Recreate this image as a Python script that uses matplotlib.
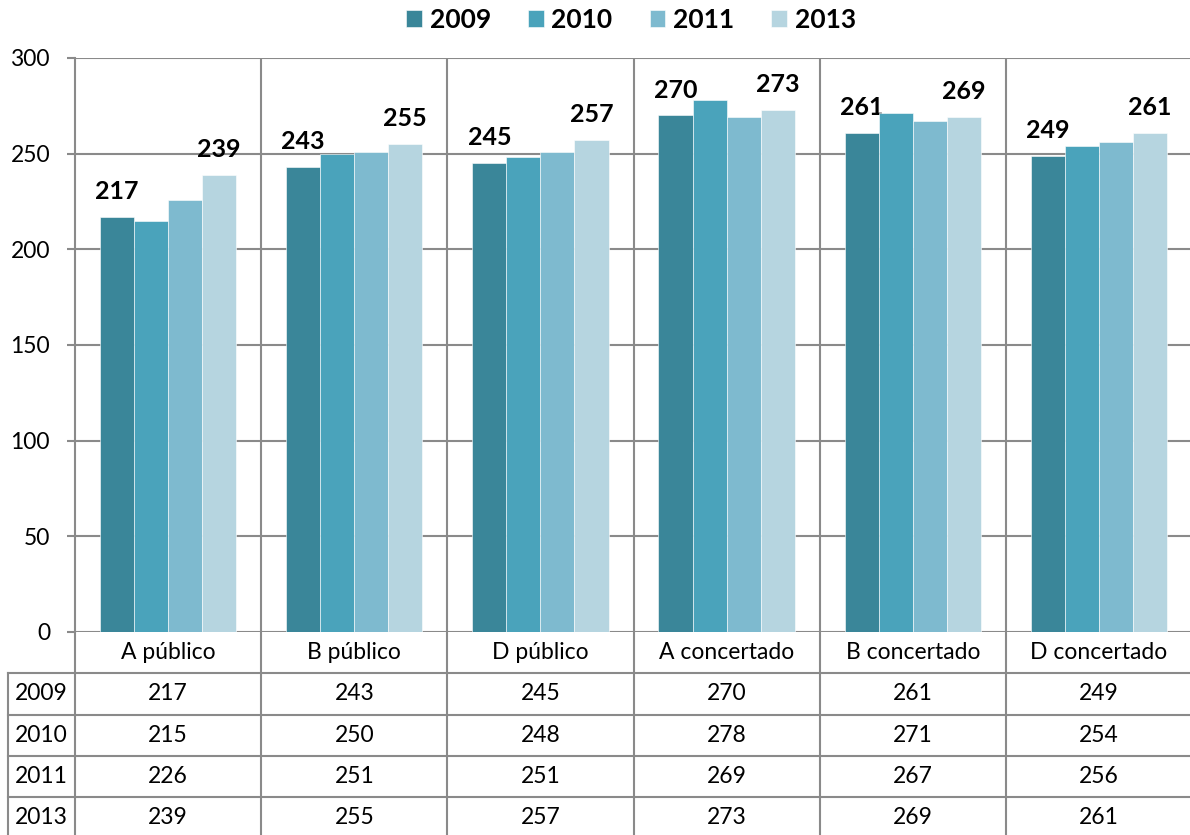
from matplotlib import pyplot as plt

categories = ["A público", "B público", "D público", "A concertado", "B concertado", "D concertado"]
years = ["2009", "2010", "2011", "2013"]
v2009 = [217, 243, 245, 270, 261, 249]
v2010 = [215, 250, 248, 278, 271, 254]
v2011 = [226, 251, 251, 269, 267, 256]
v2013 = [239, 255, 257, 273, 269, 261]
series = [v2009, v2010, v2011, v2013]
labelled = ["2009", "2013"]  # only these series carry labels above bars

colors = ["#3A8699", "#4AA3BB", "#7EBACF", "#B6D5E0"]
grid_col = "#8A8A8A"
fs = 16.5

plt.rcParams['font.family'] = ['Lato', 'DejaVu Sans']

W, H = 1190, 835
fig = plt.figure(figsize=(W / 100, H / 100), dpi=100)


def px_axes(x0, y0, x1, y1):
    # axes from pixel box (top-left origin)
    return fig.add_axes((x0 / W, 1 - y1 / H, (x1 - x0) / W, (y1 - y0) / H))


# main bar area
ax = px_axes(75, 58, 1192, 632)
ax.set_xlim(-0.5, len(categories) - 0.5)
ax.set_ylim(0, 300)

bw = 0.183
xs = list(range(len(categories)))
bars = []
for j, (yr, vals) in enumerate(zip(years, series)):
    pos = [x + (j - 1.5) * bw for x in xs]
    b = ax.bar(pos, vals, width=bw, color=colors[j], edgecolor="white", linewidth=0.4, label=yr, zorder=3)
    bars.append(b)
    if yr in labelled:
        for p, v in zip(pos, vals):
            ax.annotate(str(v), (p, v), xytext=(0, 10), textcoords="offset points",
                        ha="center", va="bottom", fontsize=18, fontweight="bold")

ax.set_yticks(range(0, 301, 50))
ax.grid(axis="y", color=grid_col, linewidth=1.5, zorder=0)
ax.set_axisbelow(True)
ax.vlines([x + 0.5 for x in xs[:-1]], 0, 300, color=grid_col, linewidth=1.5, zorder=1)
for s in ["top", "right", "bottom"]:
    ax.spines[s].set_visible(False)
ax.spines["left"].set_color(grid_col)
ax.spines["left"].set_linewidth(1.5)
ax.set_xticks([])
ax.tick_params(axis="y", length=6, width=1.5, color=grid_col, labelsize=fs, pad=12)

# data table under the chart
row_h = 41.3
left_w = 67 / (1117 / len(categories))
tab = px_axes(8, 632, 1192, 835)
x_left = -0.5 - left_w
tab.set_xlim(x_left, len(categories) - 0.5)
tab.set_ylim(203 / row_h, 0)
tab.axis("off")

n_rows = len(years) + 1
for i in range(len(categories)):
    tab.plot([i - 0.5, i - 0.5], [0, n_rows], color=grid_col, lw=1.5, clip_on=False)
    tab.text(i, 0.5, categories[i], ha="center", va="center", fontsize=fs)
tab.plot([x_left, x_left], [1, n_rows], color=grid_col, lw=1.5, clip_on=False)
for k in range(1, n_rows):
    tab.plot([x_left, len(categories) - 0.5], [k, k], color=grid_col, lw=1.5, clip_on=False)

for k, (yr, vals) in enumerate(zip(years, series)):
    yc = k + 1.5
    tab.text(x_left + left_w / 2, yc, yr, ha="center", va="center", fontsize=fs)
    for i, v in enumerate(vals):
        tab.text(i, yc, str(v), ha="center", va="center", fontsize=fs)

fig.legend(handles=bars, labels=years, loc="center", bbox_to_anchor=(631 / W, 1 - 20 / H),
           ncol=4, frameon=False, prop={"size": 19, "weight": "bold"},
           handlelength=0.6, handleheight=0.6, handletextpad=0.3, columnspacing=1.4)

fig.savefig("out.png", dpi=100)
